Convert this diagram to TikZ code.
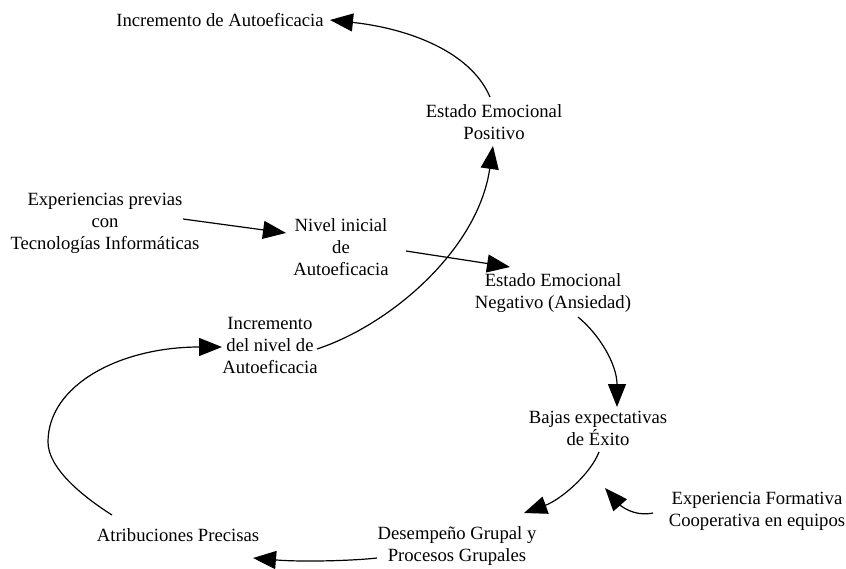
\documentclass[tikz,border=0pt]{standalone}
\usepackage{fontspec}
\setmainfont{Liberation Serif}
\usetikzlibrary{arrows.meta,calc}

\begin{document}
\begin{tikzpicture}[x=1pt,y=-1pt,
	varbox/.style={align=center,inner sep=0pt,font=\fontsize{18.67}{22}\selectfont},
	cnx/.style={-{Triangle[length=23pt,width=18pt]},line width=1.2pt}]
	\useasboundingbox (0,0) rectangle (846,568);

	% variables
	\node[varbox] (incauto) at (220,20) {Incremento de Autoeficacia};
	\node[varbox] (posemo) at (494,122) {Estado Emocional\\Positivo};
	\node[varbox] (prev) at (105,223) {Experiencias previas\\con\\Tecnologías Informáticas};
	\node[varbox] (nivel) at (341,247) {Nivel inicial\\de\\Autoeficacia};
	\node[varbox] (negemo) at (553,293) {Estado Emocional\\Negativo (Ansiedad)};
	\node[varbox] (incnivel) at (270,345) {Incremento\\del nivel de\\Autoeficacia};
	\node[varbox] (bajas) at (598,428) {Bajas expectativas\\de Éxito};
	\node[varbox] (desemp) at (457,546) {Desempeño Grupal y\\Procesos Grupales};
	\node[varbox] (atrib) at (178,535) {Atribuciones Precisas};
	\node[varbox] (coop) at (757,511) {Experiencia Formativa\\Cooperativa en equipos};
	\coordinate (coopin) at (605,488);

	% links
	\draw[cnx] ($(posemo)+(-4,-25)$) .. controls (470,50) and (405,28) .. ($(incauto)+(110,0)$);
	\draw[cnx] ($(prev)+(78,-4)$) -- ($(nivel)+(-55,-14)$);
	\draw[cnx] ($(nivel)+(65,4)$) -- ($(negemo)+(-43,-26)$);
	\draw[cnx] ($(negemo)+(25,24)$) .. controls (600,335) and (617,365) .. ($(bajas)+(19,-21)$);
	\draw[cnx] ($(bajas)+(1,24)$) .. controls (590,475) and (560,500) .. ($(desemp)+(67,-33)$);
	\draw[cnx] ($(desemp)+(-80,12)$) .. controls (350,561) and (300,562) .. ($(atrib)+(75,23)$);
	\draw[cnx] ($(atrib)+(-66,-20)$) .. controls (82,496) and (48,468) .. (48,442)
		.. controls (48,385) and (120,347) .. ($(incnivel)+(-48,2)$);
	\draw[cnx] ($(incnivel)+(47,4)$) .. controls (390,325) and (478,250) .. ($(posemo)+(-1,24)$);
	\draw[cnx] ($(coop)+(-104,2)$) .. controls (633,517) and (620,505) .. (coopin);
\end{tikzpicture}
\end{document}
